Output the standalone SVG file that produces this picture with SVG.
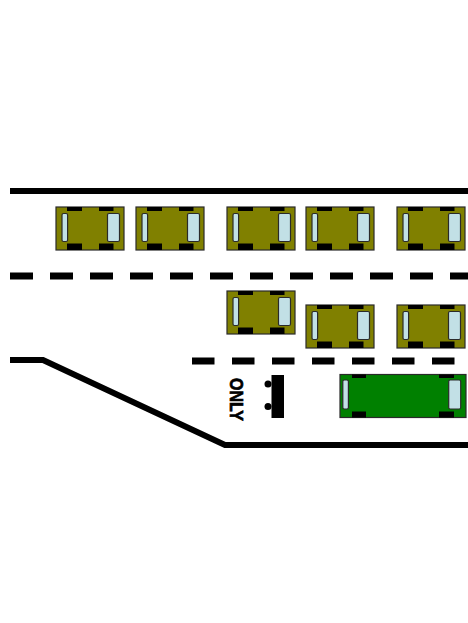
<svg xmlns="http://www.w3.org/2000/svg" xmlns:xlink="http://www.w3.org/1999/xlink" width="468" height="623" viewBox="0 0 468 623">
  <style>
    .edge { fill: none; stroke: #000; stroke-width: 6; }
    .lane { fill: none; stroke: #000; stroke-width: 7; }
    .body-car { fill: #808000; stroke: #2a2a2a; stroke-width: 1.2; }
    .body-bus { fill: #008000; stroke: #2a2a2a; stroke-width: 1.2; }
    .glass { fill: #c2e0e6; stroke: #2a2a2a; stroke-width: 1.2; }
    .tyre { fill: #000; }
    .marking { font-family: "Liberation Sans", Arial, sans-serif; font-weight: bold; font-size: 19px; fill: #000; stroke: #000; stroke-width: 0.7; }
  </style>
  <defs>
    <!-- small car seen from above, 68 x 43 -->
    <g id="car">
      <rect class="body-car" x="0" y="0" width="68" height="43"/>
      <rect class="tyre" x="11" y="0" width="15" height="4"/>
      <rect class="tyre" x="43" y="0" width="14.5" height="4"/>
      <rect class="tyre" x="11" y="36.5" width="15" height="6.5"/>
      <rect class="tyre" x="43" y="36.5" width="14.5" height="6.5"/>
      <rect class="glass" x="6" y="6.5" width="5.6" height="28" rx="1.5"/>
      <rect class="glass" x="51.5" y="6.5" width="12" height="28" rx="1.5"/>
    </g>
  </defs>
  <rect width="468" height="623" fill="#fff"/>

  <!-- road edges and lane dividers -->
  <g id="road">
    <line class="edge" x1="10" y1="191" x2="468" y2="191"/>
    <line class="lane" x1="10" y1="276" x2="468" y2="276" stroke-dasharray="23 17"/>
    <line class="lane" x1="192" y1="361" x2="468" y2="361" stroke-dasharray="22.5 17.5"/>
    <path class="edge" d="M10,360 H43 L225,445 H468" stroke-linejoin="miter"/>
  </g>

  <!-- upper lane -->
  <g id="car-1"><use xlink:href="#car" x="56" y="207"/></g>
  <g id="car-2"><use xlink:href="#car" x="136" y="207"/></g>
  <g id="car-3"><use xlink:href="#car" x="227" y="207"/></g>
  <g id="car-4"><use xlink:href="#car" x="306" y="207"/></g>
  <g id="car-5"><use xlink:href="#car" x="397" y="207"/></g>

  <!-- middle lane -->
  <g id="car-6"><use xlink:href="#car" x="227" y="291"/></g>
  <g id="car-7"><use xlink:href="#car" x="306" y="305"/></g>
  <g id="car-8"><use xlink:href="#car" x="397" y="305"/></g>

  <!-- bus lane marking -->
  <g id="lane-marking">
    <text class="marking" transform="translate(230,378) rotate(90)" x="0" y="0" textLength="43" lengthAdjust="spacingAndGlyphs">ONLY</text>
  </g>
  <g id="bus-symbol">
    <rect x="271.5" y="375" width="12.5" height="43" fill="#000"/>
    <circle cx="268" cy="384" r="3.5" fill="#000"/>
    <circle cx="268" cy="406.5" r="3.5" fill="#000"/>
  </g>

  <!-- bus -->
  <g id="bus">
    <rect class="body-bus" x="340" y="374.5" width="126" height="43"/>
    <rect class="tyre" x="352" y="374.5" width="14" height="3.5"/>
    <rect class="tyre" x="439" y="374.5" width="15" height="3.5"/>
    <rect class="tyre" x="352" y="411.5" width="14" height="6"/>
    <rect class="tyre" x="439" y="411.5" width="15" height="6"/>
    <rect class="glass" x="342.8" y="380" width="5.6" height="29" rx="1.5"/>
    <rect class="glass" x="448.7" y="380" width="12" height="29" rx="1.5"/>
  </g>
</svg>
